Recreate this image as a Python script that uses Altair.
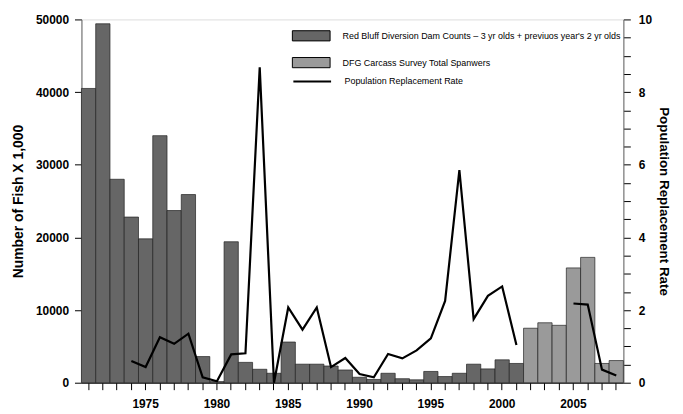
import altair as alt
import pandas as pd

years = list(range(1971, 2009))
fish_counts = [40500, 49400, 28000, 22800, 19800, 34000, 23700, 25900, 3600, 150,
               19400, 2800, 1850, 1300, 5600, 2550, 2550, 2300, 1750, 750,
               450, 1300, 550, 400, 1550, 850, 1300, 2550, 1900, 3150,
               2650, 7500, 8250, 7900, 15800, 17250, 2650, 3050]
sources = ["Red Bluff Diversion Dam Counts – 3 yr olds + previuos year's 2 yr olds"] * 31 + \
          ["DFG Carcass Survey Total Spanwers"] * 7
rates = [None, None, None, 0.60, 0.43, 1.25, 1.07, 1.35, 0.15, 0.04,
         0.78, 0.81, 8.68, 0.0, 2.07, 1.46, 2.07, 0.43, 0.68, 0.24,
         0.15, 0.79, 0.67, 0.89, 1.22, 2.25, 5.85, 1.75, 2.39, 2.65,
         1.04, None, None, None, 2.18, 2.15, 0.36, 0.20]
line_label = "Population Replacement Rate"
series_order = ["Red Bluff Diversion Dam Counts – 3 yr olds + previuos year's 2 yr olds",
                "DFG Carcass Survey Total Spanwers"]
series_colors = ["#666666", "#9a9a9a"]

bars_df = pd.DataFrame({"year": years, "count": fish_counts, "source": sources})
line_df = pd.DataFrame({"year": years, "rate": rates})
line_df = line_df.dropna()
line_df["seg"] = (line_df["year"] > 2001).astype(int)
line_df["series"] = line_label

FONT = "Liberation Sans"
LEG_FONT_SIZE = 9

xenc = alt.X("year:O", title=None,
             scale=alt.Scale(paddingInner=0, paddingOuter=0),
             axis=alt.Axis(labelExpr="datum.value % 5 == 0 ? datum.value : ''",
                           labelAngle=0, labelFont=FONT, labelFontWeight="bold",
                           labelFontSize=12, labelColor="#000", labelPadding=9,
                           tickSize=7, tickColor="#000", domainColor="#000",
                           labelOverlap=False, labelFlush=False))

bars = alt.Chart(bars_df).mark_bar(stroke="#222", strokeWidth=0.7).encode(
    x=xenc,
    y=alt.Y("count:Q", title="Number  of  Fish  X  1,000",
            scale=alt.Scale(domain=[0, 50000], nice=False),
            axis=alt.Axis(values=[0, 10000, 20000, 30000, 40000, 50000], grid=False,
                          labelFont=FONT, labelFontWeight="bold", labelFontSize=12,
                          labelColor="#000", tickSize=7, tickColor="#000",
                          domainColor="#666", titleFont=FONT, titleFontSize=14,
                          titleFontWeight="bold", titleColor="#000", titlePadding=10,
                          format="d", labelPadding=6)),
    fill=alt.Fill("source:N", scale=alt.Scale(domain=series_order, range=series_colors),
                  sort=series_order,
                  legend=alt.Legend(title=None, orient="none", legendX=212, legendY=-3,
                                    symbolType="M-1,-0.27H1V0.27H-1Z", symbolSize=1444,
                                    symbolStrokeColor="#000", symbolStrokeWidth=1,
                                    symbolOpacity=1, labelFont=FONT,
                                    labelFontSize=LEG_FONT_SIZE, labelColor="#000",
                                    labelLimit=400, labelOffset=12, rowPadding=-25)),
)

line = alt.Chart(line_df).mark_line(strokeWidth=2.2).encode(
    x=alt.X("year:O"),
    y=alt.Y("rate:Q", title="Population  Replacement  Rate",
            scale=alt.Scale(domain=[0, 10], nice=False),
            axis=alt.Axis(orient="right", values=[i * 0.5 for i in range(21)], grid=False,
                          labelExpr="datum.value % 2 == 0 ? datum.value : ''",
                          labelFont=FONT, labelFontWeight="bold", labelFontSize=12,
                          labelColor="#000", tickSize=7, tickColor="#000",
                          domainColor="#666", titleFont=FONT, titleFontSize=13.5,
                          titleFontWeight="bold", titleColor="#000", titlePadding=5,
                          titleAngle=90, labelPadding=8)),
    detail="seg:N",
    stroke=alt.Stroke("series:N", scale=alt.Scale(domain=[line_label], range=["#000"]),
                      legend=alt.Legend(title=None, orient="none", legendX=212, legendY=42,
                                        symbolType="stroke", symbolSize=1444,
                                        symbolStrokeWidth=2.2, labelFont=FONT,
                                        labelFontSize=LEG_FONT_SIZE, labelColor="#000",
                                        labelOffset=12)),
)

chart = alt.layer(bars, line).resolve_scale(y="independent", fill="independent",
                                            stroke="independent").properties(
    width=546, height=366,
    autosize=alt.AutoSizeParams(type="none"),
    padding={"left": 74, "top": 10, "right": 52, "bottom": 30},
).configure_view(stroke=None).configure(background="white")

chart.save("out.html", embed_options={"renderer": "svg", "actions": False})
